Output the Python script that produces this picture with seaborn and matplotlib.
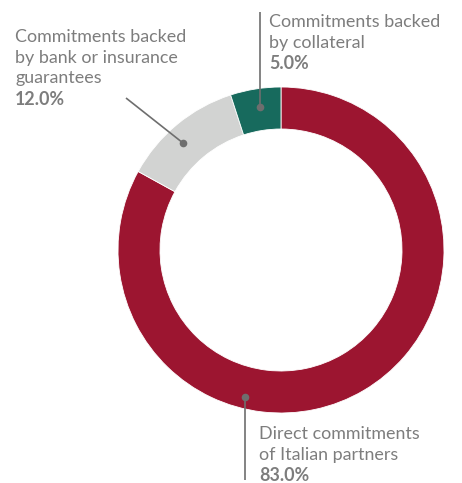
import matplotlib
matplotlib.use("Agg")
import matplotlib.pyplot as plt
import seaborn as sns
import numpy as np

# Shares of commitments, drawn clockwise from 12 o'clock
categories = ["Direct commitments\nof Italian partners",
              "Commitments backed\nby bank or insurance\nguarantees",
              "Commitments backed\nby collateral"]
shares = [83.0, 12.0, 5.0]
colors = ["#9C1530", "#D2D3D2", "#176A5D"]

sns.set_theme(style="white")
plt.rcParams["font.family"] = ["Lato", "DejaVu Sans"]

W, H = 462, 483
fig = plt.figure(figsize=(W / 100, H / 100), dpi=100)
ax = fig.add_axes([0, 0, 1, 1])

cx, cy = 281, H - 250
r_out, ring = 163, 42

wedges, _ = ax.pie(shares, colors=colors, startangle=90, counterclock=False,
                   center=(cx, cy), radius=r_out,
                   wedgeprops=dict(width=ring, edgecolor="white", linewidth=0.6))
ax.set_xlim(0, W)
ax.set_ylim(0, H)
ax.set_aspect("equal")
ax.axis("off")

text_col = "#7D7D7D"
line_col = "#6E6E6E"
fs = 12.9

def label(x, baselines, name, pct):
    lines = name.split("\n")
    for yb, ln in zip(baselines, lines):
        ax.text(x, H - yb, ln, fontsize=fs, color=text_col, va="baseline", ha="left")
    ax.text(x, H - baselines[len(lines)], f"{pct:.1f}%", fontsize=fs,
            color=text_col, fontweight="bold", va="baseline", ha="left")

def leader(x0, y0, x1, y1):
    ax.plot([x0, x1], [H - y0, H - y1], color=line_col, lw=1.2, solid_capstyle="butt")
    ax.plot([x1], [H - y1], "o", color=line_col, ms=5.5, mec="none")

# Direct commitments (bottom)
leader(245, 480, 245, 397)
label(259, [439, 460, 481], categories[0], shares[0])

# Bank or insurance guarantees (upper left)
leader(126, 98, 183, 143)
label(15, [42, 63, 83, 105], categories[1], shares[1])

# Collateral (top)
leader(260, 12, 260, 107)
label(269, [27, 48, 69], categories[2], shares[2])

fig.savefig("out.png", dpi=100, facecolor="white")
